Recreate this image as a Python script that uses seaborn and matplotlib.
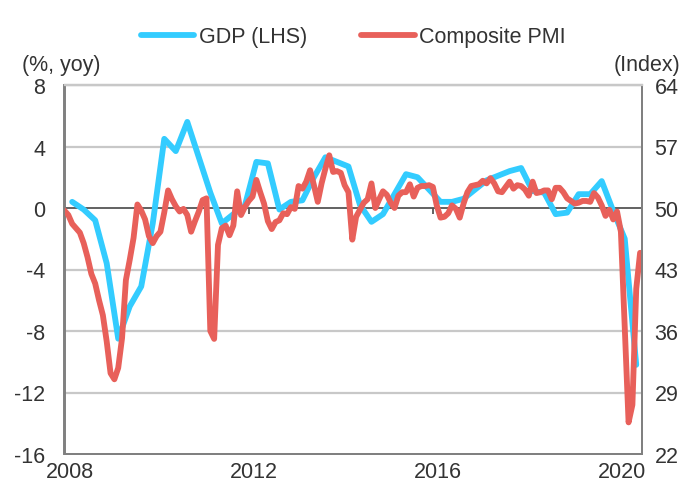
import matplotlib
matplotlib.use("Agg")
import matplotlib.pyplot as plt
import matplotlib.transforms as mtransforms
import seaborn as sns
import numpy as np
import pandas as pd

# ---------------- data ----------------
gdp_years = [2008]*4 + [2009]*4 + [2010]*4 + [2011]*4 + [2012]*4 + [2013]*4 + \
            [2014]*4 + [2015]*4 + [2016]*4 + [2017]*4 + [2018]*4 + [2019]*4 + [2020]*2
gdp_quarters = [1, 2, 3, 4]*12 + [1, 2]
gdp_values = [0.4, -0.1, -0.8, -3.6,
              -8.5, -6.4, -5.1, -1.0,
              4.5, 3.7, 5.6, 3.3,
              1.0, -1.0, -0.4, 0.15,
              3.0, 2.9, -0.1, 0.4,
              0.5, 2.0, 3.3, 3.0,
              2.7, 0.2, -0.9, -0.4,
              0.9, 2.2, 2.0, 1.2,
              0.4, 0.4, 0.6, 1.2,
              1.8, 2.1, 2.4, 2.6,
              1.1, 1.0, -0.4, -0.3,
              0.9, 0.9, 1.75, -0.2,
              -2.0, -10.2]

pmi_start_year = 2008
pmi_values = [
    49.7, 49.2, 48.2, 47.7, 47.2, 46.0, 44.4, 42.5, 41.4, 39.5, 37.8, 34.8,   # 2008
    31.2, 30.5, 31.8, 35.2, 41.8, 44.1, 46.6, 50.4, 49.7, 48.7, 46.8, 46.0,   # 2009
    46.8, 47.3, 49.5, 52.0, 51.0, 50.2, 49.6, 49.9, 49.2, 47.3, 48.5, 49.6,   # 2010
    50.9, 51.1, 36.0, 35.1, 45.8, 47.7, 48.0, 46.9, 48.0, 51.9, 49.2, 50.1,   # 2011
    50.8, 51.3, 53.2, 51.8, 50.5, 48.5, 47.6, 48.4, 48.6, 49.4, 49.3, 50.1,   # 2012
    49.9, 52.5, 52.2, 53.0, 54.3, 52.6, 50.7, 52.8, 54.5, 56.0, 54.1, 54.2,   # 2013
    54.0, 52.6, 51.8, 46.4, 49.0, 49.8, 50.6, 51.0, 52.8, 50.0, 51.0, 51.9,   # 2014
    51.5, 50.6, 50.0, 51.4, 51.8, 51.8, 52.7, 51.3, 52.3, 52.5, 52.5, 52.6,   # 2015
    52.4, 50.3, 48.9, 49.0, 49.4, 50.3, 49.9, 48.9, 50.5, 51.8, 52.5, 52.6,   # 2016
    52.7, 53.1, 52.8, 53.4, 52.8, 51.9, 51.8, 52.4, 53.0, 52.2, 52.6, 52.5,   # 2017
    52.1, 51.4, 53.0, 51.7, 51.8, 52.0, 52.0, 51.0, 52.3, 52.3, 51.8, 51.1,   # 2018
    50.8, 50.5, 50.6, 50.8, 50.8, 50.7, 51.7, 51.2, 50.3, 49.1, 49.8, 48.7,   # 2019
    49.6, 47.3, 36.5, 25.6, 27.6, 40.8, 44.9                                  # 2020
]

x_tick_years = [2008, 2012, 2016, 2020]
left_ticks = [-16, -12, -8, -4, 0, 4, 8]
right_ticks = [22, 29, 36, 43, 50, 57, 64]

# ---------------- frames ----------------
gdp_df = pd.DataFrame({
    "t": [y + (3*q - 1)/12 for y, q in zip(gdp_years, gdp_quarters)],
    "v": gdp_values,
})
pmi_df = pd.DataFrame({
    "t": [pmi_start_year + i/12 for i in range(len(pmi_values))],
    "v": pmi_values,
})

# ---------------- style ----------------
sns.set_theme(style="white")
plt.rcParams["font.family"] = ["Liberation Sans", "DejaVu Sans"]
plt.rcParams["axes.unicode_minus"] = False

BLUE = "#33CCFF"
RED = "#E8605A"
GRID = "#C8C8C8"
AXC = "#808080"
TXT = "#333333"
FS = 15.5

fig = plt.figure(figsize=(6.85, 4.89), dpi=100)
ax = fig.add_axes([64.5/685, 1-455/489, (642-64.5)/685, (455-86)/489])
ax2 = ax.twinx()

sns.lineplot(data=gdp_df, x="t", y="v", ax=ax, color=BLUE, linewidth=4.2,
             label="GDP (LHS)", legend=False, solid_joinstyle="round", solid_capstyle="round")
sns.lineplot(data=pmi_df, x="t", y="v", ax=ax2, color=RED, linewidth=4.2,
             label="Composite PMI", legend=False, solid_joinstyle="round", solid_capstyle="round")

ax.set_xlim(2008, 2020 + 6.5/12)
ax.set_ylim(-16, 8)
ax2.set_ylim(22, 64)

ax.set_yticks(left_ticks)
ax2.set_yticks(right_ticks)
ax.set_xticks(x_tick_years)
ax.set_xticklabels([str(y) for y in x_tick_years])

for t in left_ticks:
    if t not in (0, -16):
        ax.axhline(t, color=GRID, linewidth=1.6, zorder=0)
ax.axhline(0, color="#555555", linewidth=1.3, zorder=1)
ax.vlines(x_tick_years, -0.4, 0, color="#555555", linewidth=1.3, zorder=1)

for a in (ax, ax2):
    a.set_xlabel("")
    a.set_ylabel("")
    for s in a.spines.values():
        s.set_color(AXC)
        s.set_linewidth(1.4)
    a.spines["top"].set_color(GRID)
    a.spines["top"].set_linewidth(1.6)
    a.tick_params(length=0, colors=TXT, labelsize=FS)

ax.tick_params(axis="y", pad=14)
ax2.tick_params(axis="y", pad=9)
ax.tick_params(axis="x", pad=5)
offset = mtransforms.ScaledTranslation(5/100, 0, fig.dpi_scale_trans)
for lbl in ax.get_xticklabels():
    lbl.set_transform(lbl.get_transform() + offset)
ax2.set_zorder(ax.get_zorder() + 1)
ax2.patch.set_visible(False)

fig.text(22/685, 1-66/489, "(%, yoy)", fontsize=FS, color=TXT, va="center", ha="left")
fig.text(680/685, 1-66/489, "(Index)", fontsize=FS, color=TXT, va="center", ha="right")

h1, l1 = ax.get_legend_handles_labels()
h2, l2 = ax2.get_legend_handles_labels()
fig.legend(h1 + h2, l1 + l2, loc="center", bbox_to_anchor=(353/685, 1-38/489),
           ncol=2, frameon=False, fontsize=FS, handlelength=2.5, handletextpad=0.2,
           columnspacing=2.5, labelcolor=TXT)

fig.savefig("out.png", dpi=100)
